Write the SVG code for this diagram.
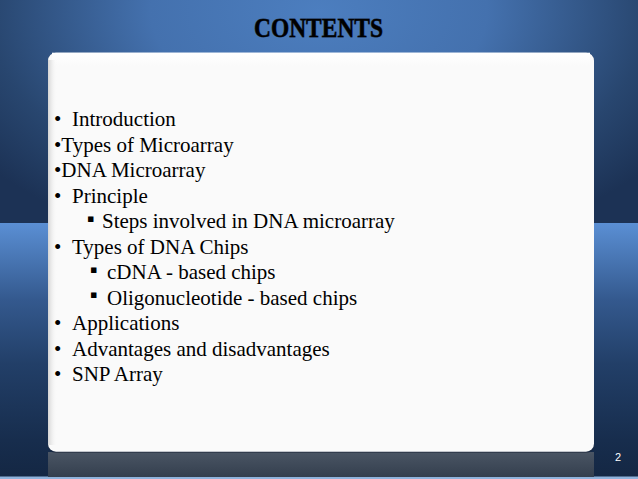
<svg xmlns="http://www.w3.org/2000/svg" width="638" height="479" viewBox="0 0 638 479">
<defs>
<radialGradient id="topbg" cx="0.5" cy="0.05" r="0.66" gradientTransform="translate(0.5 0.05) scale(1 1.7) translate(-0.5 -0.05)">
<stop offset="0" stop-color="#4c7ebf"/>
<stop offset="0.4" stop-color="#4471ae"/>
<stop offset="0.78" stop-color="#28466f"/>
<stop offset="1" stop-color="#1c3255"/>
</radialGradient>
<linearGradient id="botbg" x1="0" y1="0" x2="0" y2="1">
<stop offset="0" stop-color="#5a8fd4"/>
<stop offset="0.3" stop-color="#34598e"/>
<stop offset="0.55" stop-color="#223f68"/>
<stop offset="0.85" stop-color="#172d4d"/>
<stop offset="1" stop-color="#142743"/>
</linearGradient>
<linearGradient id="leftshade" x1="0" y1="0" x2="1" y2="0">
<stop offset="0" stop-color="#d4d4d4"/>
<stop offset="1" stop-color="#fafafa" stop-opacity="0"/>
</linearGradient>
<linearGradient id="topshine" x1="0" y1="0" x2="0" y2="1">
<stop offset="0" stop-color="#ffffff"/>
<stop offset="1" stop-color="#fafafa"/>
</linearGradient>
<linearGradient id="refl" x1="0" y1="0" x2="0" y2="1">
<stop offset="0" stop-color="#4a5564"/>
<stop offset="1" stop-color="#343f4e"/>
</linearGradient>
<style>
.item{font-family:"Liberation Serif","Times New Roman",serif;font-size:21px;fill:#000}
.sq{font-family:"DejaVu Sans",sans-serif;font-size:11px;fill:#000}
.title{font-family:"Liberation Serif","Times New Roman",serif;font-weight:bold;font-size:27px;fill:#000}
.num{font-family:"Liberation Sans",Arial,sans-serif;font-size:11px;fill:#ffffff}
</style>
</defs>
<g id="background">
<rect x="0" y="0" width="638" height="224" fill="url(#topbg)"/>
<rect x="0" y="223" width="638" height="256" fill="url(#botbg)"/>
<rect x="0" y="476.5" width="638" height="2.5" fill="#8fb3dc"/>
</g>
<g id="title">
<text class="title" x="318.5" y="37" text-anchor="middle" textLength="129" lengthAdjust="spacingAndGlyphs" style="paint-order:stroke" stroke="#1b2b44" stroke-width="0.8">CONTENTS</text>
</g>
<g id="card">
<rect x="48" y="452" width="546" height="25" fill="url(#refl)"/>
<rect x="48" y="53" width="546" height="400" rx="8" fill="#1a2335" opacity="0.5"/>
<rect x="48" y="52.7" width="546" height="399" rx="8" fill="#fafafa"/>
<rect x="52" y="52.7" width="538" height="14" fill="url(#topshine)"/>
<rect x="48" y="60" width="9" height="385" fill="url(#leftshade)"/>
</g>
<g id="items">
<text class="item" x="54" y="126">•</text><text class="item" x="72" y="126">Introduction</text>
<text class="item" x="54" y="151.5">•Types of Microarray</text>
<text class="item" x="54" y="177">•DNA Microarray</text>
<text class="item" x="54" y="202.5">•</text><text class="item" x="72" y="202.5">Principle</text>
<text class="sq" x="87" y="221.5">▪</text><text class="item" x="102" y="228">Steps involved in DNA microarray</text>
<text class="item" x="54" y="253.5">•</text><text class="item" x="72" y="253.5">Types of DNA Chips</text>
<text class="sq" x="90" y="272.5">▪</text><text class="item" x="107" y="279">cDNA - based chips</text>
<text class="sq" x="90" y="298">▪</text><text class="item" x="107" y="304.5">Oligonucleotide - based chips</text>
<text class="item" x="54" y="330">•</text><text class="item" x="72" y="330">Applications</text>
<text class="item" x="54" y="355.5">•</text><text class="item" x="72" y="355.5">Advantages and disadvantages</text>
<text class="item" x="54" y="381">•</text><text class="item" x="72" y="381">SNP Array</text>
</g>
<g id="pagenum">
<text class="num" x="618" y="461" text-anchor="middle">2</text>
</g>
</svg>
